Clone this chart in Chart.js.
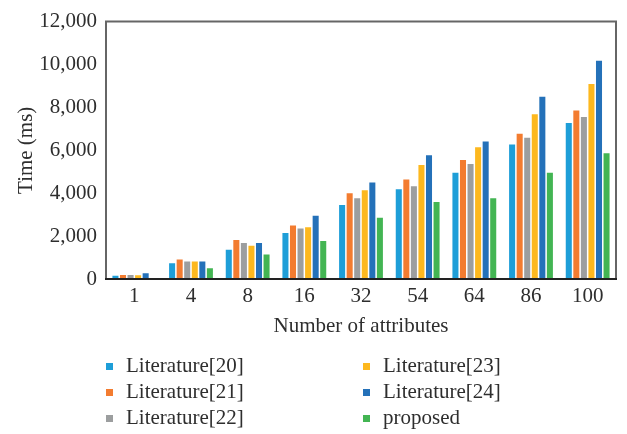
<!DOCTYPE html>
<html>
<head>
<meta charset="utf-8">
<script src="https://cdn.jsdelivr.net/npm/chart.js@4.4.0/dist/chart.umd.min.js"></script>
<style>
  html, body { margin: 0; padding: 0; background: #fff; }
  #wrap { width: 627px; height: 434px; }
</style>
</head>
<body>
<div id="wrap"><canvas id="grafica" width="627" height="434"></canvas></div>
<script>
// datos
const categories = ['1', '4', '8', '16', '32', '54', '64', '86', '100'];
const seriesNames = ['Literature[20]', 'Literature[21]', 'Literature[22]', 'Literature[23]', 'Literature[24]', 'proposed'];
const lit20 = [150, 730, 1360, 2140, 3450, 4180, 4950, 6270, 7270];
const lit21 = [190, 910, 1820, 2500, 4000, 4640, 5550, 6770, 7860];
const lit22 = [190, 820, 1680, 2360, 3770, 4320, 5360, 6590, 7550];
const lit23 = [180, 820, 1550, 2410, 4140, 5320, 6140, 7680, 9090];
const lit24 = [270, 820, 1680, 2950, 4500, 5770, 6410, 8500, 10180];
const proposed = [50, 500, 1140, 1770, 2860, 3590, 3770, 4950, 5860];
const yTicks = [0, 2000, 4000, 6000, 8000, 10000, 12000];

const colors = ['#1e9ed8', '#f37c30', '#9c9e9f', '#fdb81e', '#2471b9', '#43b553'];
const fontFamily = '"Liberation Serif", "Times New Roman", serif';
const fontSize = 21;
const textColor = '#2e2e2e';

const allSeries = [lit20, lit21, lit22, lit23, lit24, proposed];

// marco alrededor del área del gráfico
const frameBox = {
    id: 'frameBox',
    afterDraw(chart) {
        const { ctx, chartArea: a } = chart;
        ctx.save();
        ctx.strokeStyle = '#666666';
        ctx.lineWidth = 2;
        ctx.beginPath();
        ctx.moveTo(a.left, a.bottom);
        ctx.lineTo(a.left, a.top);
        ctx.lineTo(a.right, a.top);
        ctx.lineTo(a.right, a.bottom);
        ctx.stroke();
        ctx.strokeStyle = '#222222';
        ctx.beginPath();
        ctx.moveTo(a.left - 1, a.bottom);
        ctx.lineTo(a.right + 1, a.bottom);
        ctx.stroke();
        ctx.restore();
    }
};

// leyenda en dos columnas (orden por columnas)
const legendCols = {
    id: 'legendCols',
    afterDraw(chart) {
        const ctx = chart.ctx;
        ctx.save();
        ctx.font = fontSize + 'px ' + fontFamily;
        ctx.textBaseline = 'middle';
        chart.data.datasets.forEach((ds, i) => {
            const col = Math.floor(i / 3);
            const row = i % 3;
            const x = 106 + col * 257;
            const y = 366 + row * 26;
            ctx.fillStyle = ds.backgroundColor;
            ctx.fillRect(x, y - 3, 7, 7);
            ctx.fillStyle = textColor;
            ctx.fillText(ds.label, x + 20, y);
        });
        ctx.restore();
    }
};

const ctx = document.getElementById('grafica').getContext('2d');
new Chart(ctx, {
    type: 'bar',
    data: {
        labels: categories,
        datasets: allSeries.map((vals, i) => ({
            label: seriesNames[i],
            data: vals,
            backgroundColor: colors[i],
            borderWidth: 0,
            categoryPercentage: 0.8,
            barPercentage: 0.8
        }))
    },
    options: {
        responsive: false,
        animation: false,
        layout: { padding: { top: 15, right: 11, bottom: 95, left: 0 } },
        plugins: {
            legend: { display: false },
            tooltip: { enabled: false }
        },
        scales: {
            x: {
                grid: { display: false, drawTicks: false },
                border: { display: false },
                ticks: { color: textColor, font: { family: fontFamily, size: fontSize }, padding: 5 },
                title: {
                    display: true,
                    text: 'Number of attributes',
                    color: textColor,
                    font: { family: fontFamily, size: fontSize },
                    padding: { top: -2, bottom: 0 }
                },
                afterFit(scale) { scale.height = 60; }
            },
            y: {
                min: 0,
                max: 12000,
                grid: { display: false, drawTicks: false },
                border: { display: false },
                afterBuildTicks(scale) { scale.ticks = yTicks.map(v => ({ value: v })); },
                ticks: {
                    color: textColor,
                    font: { family: fontFamily, size: fontSize },
                    padding: 9,
                    callback: v => v.toLocaleString('en-US')
                },
                title: {
                    display: true,
                    text: 'Time (ms)',
                    color: textColor,
                    font: { family: fontFamily, size: fontSize },
                    padding: { top: 14, bottom: 0 }
                },
                afterFit(scale) { scale.width = 106; }
            }
        }
    },
    plugins: [frameBox, legendCols]
});
</script>
</body>
</html>
